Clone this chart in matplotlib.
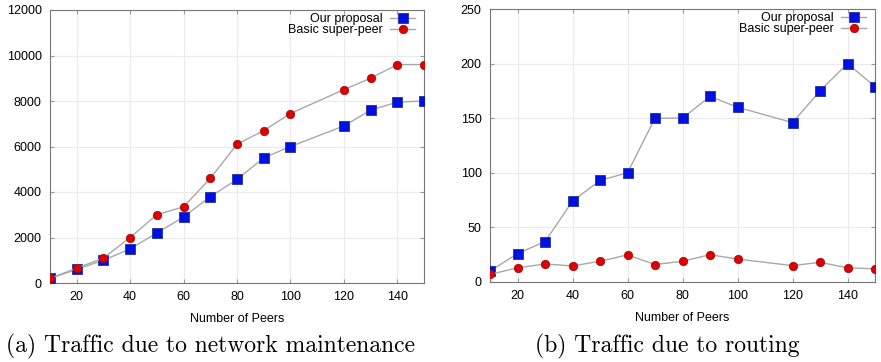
import numpy as np
import matplotlib
matplotlib.use("Agg")
import matplotlib.pyplot as plt

# data
peers = [10, 20, 30, 40, 50, 60, 70, 80, 90, 100, 120, 130, 140, 150]

# (a) traffic due to network maintenance
maint_proposal = [200, 600, 1000, 1500, 2200, 2900, 3800, 4550, 5500, 6000, 6900, 7600, 7950, 8000]
maint_basic = [200, 650, 1100, 2000, 3000, 3350, 4600, 6100, 6700, 7450, 8500, 9000, 9600, 9600]

# (b) traffic due to routing
route_proposal = [10, 26, 37, 74, 93, 100, 150, 150, 170, 160, 146, 175, 200, 179]
route_basic = [7, 13, 16.5, 14.7, 19, 24.8, 16, 19, 25, 21, 15, 18, 13, 12]

x_ticks = [20, 40, 60, 80, 100, 120, 140]
labels = ["Our proposal", "Basic super-peer"]
captions = ["(a) Traffic due to network maintenance", "(b) Traffic due to routing"]

plt.rcParams['font.family'] = ['Liberation Sans Narrow', 'Liberation Sans', 'DejaVu Sans']

fig = plt.figure(figsize=(8.81, 3.62), dpi=100)
ax1 = fig.add_axes([50/881, 79/362, 374/881, 273/362])
ax2 = fig.add_axes([490/881, 80/362, 385/881, 273/362])

def draw(ax, ys1, ys2, ymax, ystep):
    ax.plot(peers, ys1, color='#a8a8a8', lw=1, marker='s', ms=6.5,
            mfc='#0010e0', mec='#2030a0', mew=0.6, label=labels[0], zorder=3)
    ax.plot(peers, ys2, color='#a8a8a8', lw=1, marker='o', ms=6,
            mfc='#e00000', mec='#a01010', mew=0.6, label=labels[1], zorder=3)
    ax.set_xlim(10, 150)
    ax.set_ylim(0, ymax)
    ax.set_xticks(x_ticks)
    ax.set_yticks(np.arange(0, ymax + 1, ystep))
    ax.grid(True, color='#ebebeb', lw=0.8)
    ax.tick_params(direction='in', length=3, color='#999999', labelsize=9,
                   top=True, right=True, pad=6)
    for s in ax.spines.values():
        s.set_color('#777777')
        s.set_linewidth(0.8)
    ax.set_xlabel("Number of Peers", fontsize=9, labelpad=7)
    ax.legend(loc='upper right', bbox_to_anchor=(1.0, 1.02), frameon=False,
              markerfirst=False, fontsize=9, handlelength=2.0,
              handletextpad=0.6, labelspacing=-0.1, borderaxespad=0.3)

draw(ax1, maint_proposal, maint_basic, 12000, 2000)
draw(ax2, route_proposal, route_basic, 250, 50)

fig.text(211/881, 1 - 346/362, captions[0], family='cmr10', fontsize=17,
         ha='center', va='center')
fig.text(667/881, 1 - 346/362, captions[1], family='cmr10', fontsize=17,
         ha='center', va='center')

plt.savefig("out.png", dpi=100)
